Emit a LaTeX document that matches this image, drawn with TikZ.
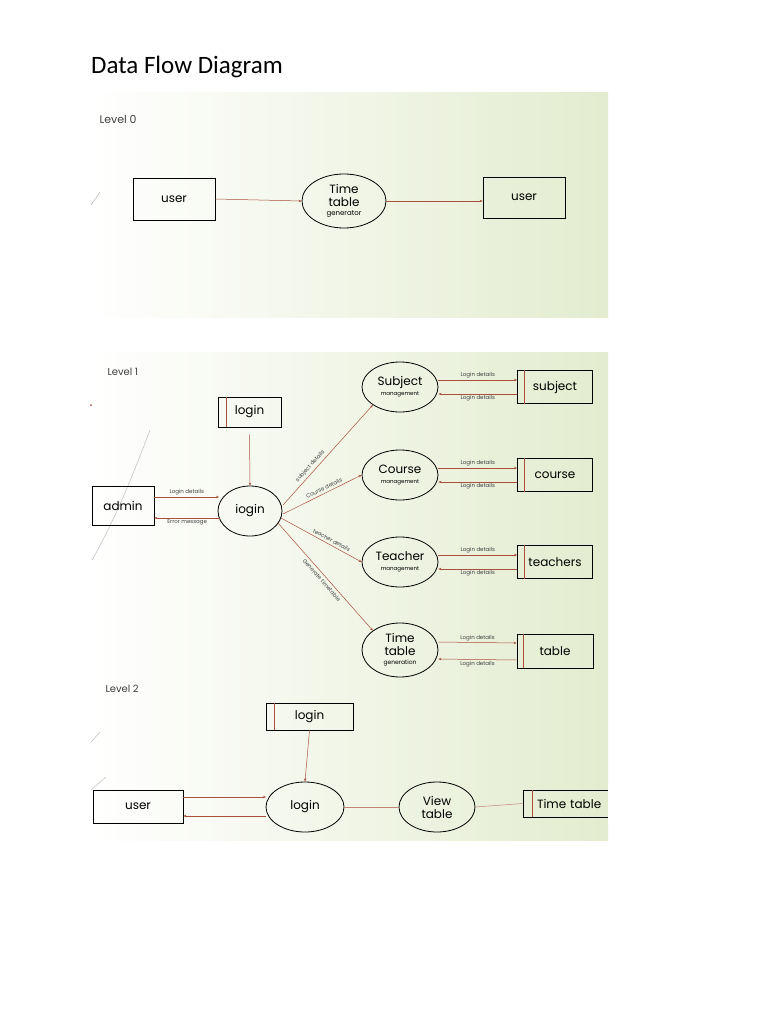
\documentclass[tikz,border=0pt]{standalone}
\usepackage{fontspec}
\setmainfont{Carlito}
\newfontfamily\dg{Poppins}
\usetikzlibrary{shapes.geometric,arrows.meta}
\definecolor{arr}{HTML}{A8503C}
\definecolor{bgg}{HTML}{E3ECCF}
\begin{document}
\begin{tikzpicture}[x=1pt,y=-1pt,
 ent/.style={draw,line width=0.8pt,minimum width=#1,inner sep=0pt,font=\dg\fontsize{12}{13}\selectfont},
 proc/.style={draw,ellipse,line width=0.8pt,inner sep=0pt,font=\dg\fontsize{12}{13}\selectfont,align=center},
 fl/.style={draw=arr,line width=0.5pt,-{Stealth[length=3pt,width=2.5pt]}},
 ln/.style={draw=arr!70,line width=0.5pt},
 lab/.style={font=\dg\fontsize{5.5}{6}\selectfont,text=black!75,inner sep=1.5pt},
 slab/.style={lab,inner sep=0pt,above=2.5pt,sloped},
 panel/.style={left color=white,right color=bgg,draw=none}]
\useasboundingbox (0,0) rectangle (768,1024);
\fill[white] (0,0) rectangle (768,1024);
\node[anchor=base west,font=\fontsize{25}{28}\selectfont,inner sep=0] (title) at (91,74) {Data Flow Diagram};
% panels
\shade[panel] (90,93) rectangle (608,317);
\shade[panel] (90,352) rectangle (608,677);
\shade[panel] (90,677) rectangle (608,840);
\draw[black!35,line width=0.4pt] (91,205) -- (100,192);
\draw[black!30,line width=0.4pt] (92,560) .. controls (115,520) and (135,470) .. (150,430);
\draw[black!30,line width=0.4pt] (91,742) -- (100,732);
\draw[black!30,line width=0.4pt] (91,790) -- (106,777);
\fill[arr] (91,405) circle (1pt);
% Level 0
\node[anchor=north west,font=\dg\fontsize{11}{11}\selectfont,text=black!75] (l0) at (96,112) {Level 0};
\node[ent=82pt,minimum height=42pt] (u1) at (174,199) {user};
\node[proc,minimum width=84pt,minimum height=54pt] (tg) at (344,201) {Time\\table\\[-4pt]{\fontsize{7}{7}\selectfont generator}};
\node[ent=82pt,minimum height=41pt] (u2) at (524,197.5) {user};
\draw[fl] (u1.east) -- (tg.west);
\draw[fl] (tg.east) -- (u2.west |- tg.east);
% Level 1
\node[anchor=north west,font=\dg\fontsize{10}{10}\selectfont,text=black!75] (l1) at (104,365) {Level 1};
\node[ent=63pt,minimum height=30pt] (ls) at (249.5,412) {login};
\draw[arr,line width=0.5pt] ([xshift=9pt]ls.north west) -- ([xshift=9pt]ls.south west);
\node[ent=62pt,minimum height=39pt] (ad) at (123,505.5) {admin};
\node[proc,minimum width=64pt,minimum height=50pt] (lg) at (250,511) {iogin};
\draw[fl] (ls.south) ++(0,7) coordinate (lsb) (lsb) -- (lg.north);
\coordinate (a1) at (ad.east |- 0,497); \coordinate (g1) at (219,497);
\draw[fl] (a1) -- (g1) node[lab,midway,above] {Login details};
\coordinate (a2) at (ad.east |- 0,518); \coordinate (g2) at (220,518);
\draw[fl] (g2) -- (a2) node[lab,midway,below] {Error message};
\foreach \n/\t/\y/\s in {sm/Subject/387/subject, cm/Course/475/course, tm/Teacher/562/teachers}{
  \node[proc,minimum width=76pt,minimum height=50pt] (\n) at (400,\y) {\t\\[-3pt]{\fontsize{5.5}{6}\selectfont management}};
  \node[ent=75pt,minimum height=33pt] (\n s) at (555,\y) {\s};
  \draw[arr,line width=0.5pt] ([xshift=7pt]\n s.north west) -- ([xshift=7pt]\n s.south west);
  \draw[fl] ([yshift=7pt]\n.east) -- ([yshift=7pt]\n s.west) node[lab,midway,above] {Login details};
  \draw[fl] ([yshift=-7pt]\n s.west) -- ([yshift=-7pt]\n.east) node[lab,midway,below] {Login details};
}
\node[proc,minimum width=76pt,minimum height=54pt] (tt) at (400,650) {Time\\table\\[-4pt]{\fontsize{6}{6}\selectfont generation}};
\node[ent=76pt,minimum height=34pt] (tts) at (555,651) {table};
\draw[arr,line width=0.5pt] ([xshift=7pt]tts.north west) -- ([xshift=7pt]tts.south west);
\draw[fl] ([yshift=8pt]tt.east) -- ([yshift=8pt]tts.west) node[lab,midway,above] {Login details};
\draw[fl] ([yshift=-9pt]tts.west) -- ([yshift=-9pt]tt.east) node[lab,midway,below] {Login details};
\coordinate (o1) at (283,505); \coordinate (o2) at (283,514); \coordinate (o3) at (281,518); \coordinate (o4) at (278,523);
\draw[fl] (o1) -- (sm.south west) node[slab,pos=0.35] {subject details};
\draw[fl] (o2) -- (cm.west) node[slab,pos=0.55] {Course details};
\draw[fl] (o3) -- (tm.west) node[slab,pos=0.6] {teacher details};
\draw[fl] (o4) -- (tt.north west) node[lab,inner sep=0pt,below=2.5pt,sloped,pos=0.5] {Generate timetable};
% Level 2
\node[anchor=north west,font=\dg\fontsize{10}{10}\selectfont,text=black!75] (l2) at (102,682) {Level 2};
\node[ent=87pt,minimum height=27pt] (ls2) at (309.5,716.5) {login};
\draw[arr,line width=0.5pt] ([xshift=9pt]ls2.north west) -- ([xshift=9pt]ls2.south west);
\node[ent=90pt,minimum height=33pt] (us) at (138,806.5) {user};
\node[proc,minimum width=78pt,minimum height=50pt] (lg2) at (305,807) {login};
\node[proc,minimum width=76pt,minimum height=50pt] (vt) at (437,807) {View\\table};
\node[ent=90pt,minimum height=27pt,text width=70pt,align=left] (tts2) at (568,803.5) {\hspace*{4pt}Time table};
\draw[arr,line width=0.5pt] ([xshift=10pt]tts2.north west) -- ([xshift=10pt]tts2.south west);
\fill[white] (608,785) rectangle (620,825);
\draw[fl] (ls2.south) -- (lg2.north);
\coordinate (b1) at (us.east |- 0,797); \coordinate (b2) at (us.east |- 0,816);
\draw[fl] (b1) -- (266,797);
\draw[fl] (266,816) -- (b2);
\draw[ln] (lg2.east) -- (vt.west);
\draw[ln] (vt.east) -- (tts2.west);
\end{tikzpicture}
\end{document}
